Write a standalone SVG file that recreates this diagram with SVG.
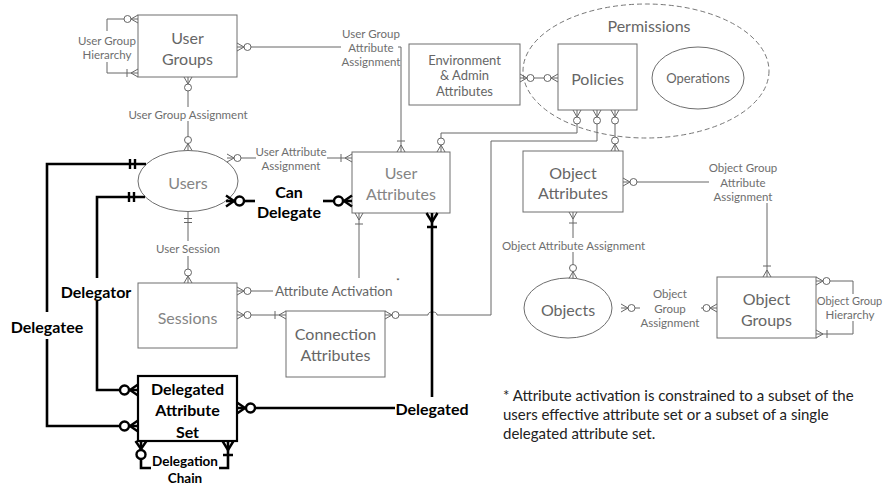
<svg xmlns="http://www.w3.org/2000/svg" width="883" height="487" viewBox="0 0 883 487">
<style>
  text{font-family:Lato,"Liberation Sans",sans-serif;text-anchor:middle;dominant-baseline:central}
  .box{fill:#fff;stroke:#6e6e6e;stroke-width:1}
  .boxT{fill:#fff;stroke:#000;stroke-width:2.2}
  .big{font-size:16px;fill:#666}
  .pale{fill:#858585}
  .mid{font-size:13px;fill:#666}
  .lbl{font-size:11.5px;fill:#6e6e6e}
  .act{font-size:13.6px;fill:#666;text-anchor:start}
  .bold{font-weight:bold;fill:#000}
  .note{font-size:15px;fill:#222;text-anchor:start}
  .ln{fill:none;stroke:#666;stroke-width:1}
  .thick{fill:none;stroke:#000;stroke-width:2.6}
  .mk{fill:none;stroke:#666;stroke-width:1}
  .mkT{fill:none;stroke:#000;stroke-width:2.4}
</style>
<defs>
  <!-- thin ends: origin sits on the entity, symbol extends along -x -->
  <marker id="zm" viewBox="-20 -8 22 16" markerWidth="22" markerHeight="16" refX="0" refY="0" orient="auto-start-reverse" markerUnits="userSpaceOnUse">
    <path class="mk" d="M-7,0L0,-4M-7,0L0,4"/>
    <circle cx="-10.5" cy="0" r="3.5" fill="#fff" stroke="#666" stroke-width="1"/>
  </marker>
  <marker id="om" viewBox="-20 -8 22 16" markerWidth="22" markerHeight="16" refX="0" refY="0" orient="auto-start-reverse" markerUnits="userSpaceOnUse">
    <path class="mk" d="M-7,0L0,-4M-7,0L0,4M-11,-4V4"/>
  </marker>
  <marker id="oo" viewBox="-20 -8 22 16" markerWidth="22" markerHeight="16" refX="0" refY="0" orient="auto-start-reverse" markerUnits="userSpaceOnUse">
    <path class="mk" d="M-7,-4V4M-11,-4V4"/>
  </marker>
  <!-- heavy ends for the delegation relations -->
  <marker id="zmT" viewBox="-24 -10 26 20" markerWidth="26" markerHeight="20" refX="0" refY="0" orient="auto-start-reverse" markerUnits="userSpaceOnUse">
    <path class="mkT" d="M-8,0L0,-5.5M-8,0L0,5.5"/>
    <circle cx="-13.5" cy="0" r="4.5" fill="#fff" stroke="#000" stroke-width="2.4"/>
  </marker>
  <marker id="omT" viewBox="-24 -10 26 20" markerWidth="26" markerHeight="20" refX="0" refY="0" orient="auto-start-reverse" markerUnits="userSpaceOnUse">
    <path class="mkT" d="M-9,0L0,-5.5M-9,0L0,5.5M-14,-5V5"/>
  </marker>
  <marker id="ooT" viewBox="-24 -10 26 20" markerWidth="26" markerHeight="20" refX="0" refY="0" orient="auto-start-reverse" markerUnits="userSpaceOnUse">
    <path class="mkT" d="M-11,-5V5M-16,-5V5"/>
  </marker>
</defs>

<rect width="883" height="487" fill="#fff"/>

<!-- permissions container -->
<g id="permissions">
  <ellipse cx="646" cy="71" rx="123" ry="67" fill="none" stroke="#777" stroke-width="1" stroke-dasharray="5,3"/>
  <text class="big" x="649" y="25">Permissions</text>
</g>

<!-- entities -->
<g id="user-groups">
  <rect class="box" x="138" y="15" width="99" height="62"/>
  <text class="big" x="187.5" y="37">User</text>
  <text class="big" x="187.5" y="58">Groups</text>
</g>
<g id="env-admin-attributes">
  <rect class="box" x="409" y="44" width="111" height="61"/>
  <text class="mid" x="464.5" y="59.5">Environment</text>
  <text class="mid" x="464.5" y="75">&amp; Admin</text>
  <text class="mid" x="464.5" y="91">Attributes</text>
</g>
<g id="policies">
  <rect class="box" x="558" y="44" width="79" height="66"/>
  <text class="big" x="597.5" y="78">Policies</text>
</g>
<g id="operations">
  <ellipse class="box" cx="698" cy="78" rx="46" ry="31"/>
  <text class="mid" x="698" y="78">Operations</text>
</g>
<g id="users">
  <ellipse class="box" cx="188" cy="181" rx="50" ry="30.5"/>
  <text class="big pale" x="188" y="182">Users</text>
</g>
<g id="user-attributes">
  <rect class="box" x="352" y="152" width="98" height="61" stroke="#888"/>
  <text class="big pale" x="401" y="172">User</text>
  <text class="big pale" x="401" y="193">Attributes</text>
</g>
<g id="object-attributes">
  <rect class="box" x="523" y="151" width="100" height="61"/>
  <text class="big" x="573" y="172.5">Object</text>
  <text class="big" x="573" y="192.5">Attributes</text>
</g>
<g id="sessions">
  <rect class="box" x="138" y="283" width="99" height="65"/>
  <text class="big pale" x="187.5" y="317">Sessions</text>
</g>
<g id="connection-attributes">
  <rect class="box" x="286" y="311" width="99" height="66"/>
  <text class="big" x="335.5" y="333">Connection</text>
  <text class="big" x="335.5" y="354">Attributes</text>
</g>
<g id="delegated-attribute-set">
  <rect class="boxT" x="138" y="376" width="99" height="65"/>
  <text class="big bold" x="187.5" y="388">Delegated</text>
  <text class="big bold" x="187.5" y="409">Attribute</text>
  <text class="big bold" x="187.5" y="431">Set</text>
</g>
<g id="objects">
  <ellipse class="box" cx="568" cy="308" rx="44" ry="30"/>
  <text class="big" x="568" y="309">Objects</text>
</g>
<g id="object-groups">
  <rect class="box" x="717" y="277" width="99" height="61"/>
  <text class="big" x="766.5" y="298">Object</text>
  <text class="big" x="766.5" y="319">Groups</text>
</g>

<!-- relationships -->
<g id="connectors">
  <!-- user group hierarchy -->
  <path class="ln" d="M138,19H107V31" marker-start="url(#zm)"/>
  <path class="ln" d="M107,62V73H138" marker-end="url(#om)"/>
  <text class="lbl" x="107" y="40">User Group</text>
  <text class="lbl" x="107" y="54">Hierarchy</text>

  <!-- user group attribute assignment -->
  <path class="ln" d="M237,47H341" marker-start="url(#zm)"/>
  <path class="ln" d="M398,47H401V152" marker-end="url(#om)"/>
  <text class="lbl" x="371" y="33">User Group</text>
  <text class="lbl" x="371" y="47">Attribute</text>
  <text class="lbl" x="371" y="61">Assignment</text>

  <!-- user group assignment -->
  <path class="ln" d="M188,77V107" marker-start="url(#zm)"/>
  <path class="ln" d="M188,121V150.5" marker-end="url(#zm)"/>
  <text class="lbl" x="188" y="114">User Group Assignment</text>

  <!-- user attribute assignment -->
  <path class="ln" d="M227,158H256" marker-start="url(#zm)"/>
  <path class="ln" d="M327,158H352" marker-end="url(#om)"/>
  <text class="lbl" x="291" y="151">User Attribute</text>
  <text class="lbl" x="291" y="165">Assignment</text>

  <!-- user session -->
  <path class="ln" d="M188,211.5V241" marker-start="url(#oo)"/>
  <path class="ln" d="M188,256V283" marker-end="url(#zm)"/>
  <text class="lbl" x="188" y="248">User Session</text>

  <!-- attribute activation -->
  <path class="ln" d="M237,291H273" marker-start="url(#zm)"/>
  <path class="ln" d="M359,213V278" marker-start="url(#om)"/>
  <text class="act" x="275" y="291">Attribute Activation</text>
  <text x="398" y="281" style="font-size:8px;fill:#333">*</text>

  <!-- sessions to connection attributes -->
  <path class="ln" d="M237,315H286" marker-start="url(#zm)" marker-end="url(#om)"/>

  <!-- connection attributes to policies, hopping the delegated line -->
  <path class="ln" d="M385,315H428a4.5,3 0 0 1 9,0H491V141H597V110" marker-start="url(#zm)" marker-end="url(#zm)"/>

  <!-- policies to user attributes -->
  <path class="ln" d="M577,110V133H441V152" marker-start="url(#zm)" marker-end="url(#zm)"/>

  <!-- policies to object attributes -->
  <path class="ln" d="M615,110V151" marker-start="url(#zm)" marker-end="url(#zm)"/>

  <!-- environment attributes to policies -->
  <path class="ln" d="M520,78H558" marker-start="url(#zm)" marker-end="url(#zm)"/>

  <!-- object group attribute assignment -->
  <path class="ln" d="M623,182H709" marker-start="url(#zm)"/>
  <path class="ln" d="M767,203V277" marker-end="url(#om)"/>
  <text class="lbl" x="743" y="167">Object Group</text>
  <text class="lbl" x="743" y="182">Attribute</text>
  <text class="lbl" x="743" y="196">Assignment</text>

  <!-- object attribute assignment -->
  <path class="ln" d="M573,212V238" marker-start="url(#om)"/>
  <path class="ln" d="M573,252V278.5" marker-end="url(#zm)"/>
  <text class="lbl" x="573.5" y="245">Object Attribute Assignment</text>

  <!-- object group assignment -->
  <path class="ln" d="M621,308H640" marker-start="url(#zm)"/>
  <path class="ln" d="M701,308H717" marker-end="url(#zm)"/>
  <text class="lbl" x="670" y="293.5">Object</text>
  <text class="lbl" x="670" y="308">Group</text>
  <text class="lbl" x="670" y="322">Assignment</text>

  <!-- object group hierarchy -->
  <path class="ln" d="M816,281H853V294" marker-start="url(#zm)"/>
  <path class="ln" d="M853,321V334H816" marker-end="url(#om)"/>
  <text class="lbl" x="849.5" y="300" style="font-size:11px">Object Group</text>
  <text class="lbl" x="850" y="314">Hierarchy</text>

  <!-- can delegate -->
  <path class="thick" d="M226,201H255" marker-start="url(#zmT)"/>
  <path class="thick" d="M323,201H352" marker-end="url(#zmT)"/>
  <text class="big bold" x="289" y="191">Can</text>
  <text class="big bold" x="289" y="211">Delegate</text>

  <!-- delegatee -->
  <path class="thick" d="M146,164H47V312" marker-start="url(#ooT)"/>
  <path class="thick" d="M47,339V426H138" marker-end="url(#zmT)"/>
  <text class="big bold" x="47" y="326">Delegatee</text>

  <!-- delegator -->
  <path class="thick" d="M145,197H97V278" marker-start="url(#ooT)"/>
  <path class="thick" d="M97,301V390H138" marker-end="url(#zmT)"/>
  <text class="big bold" x="96" y="291">Delegator</text>

  <!-- delegated -->
  <path class="thick" d="M432,213V397" marker-start="url(#omT)"/>
  <path class="thick" d="M237,408H395" marker-start="url(#zmT)"/>
  <text class="big bold" x="432" y="408">Delegated</text>

  <!-- delegation chain -->
  <path class="thick" d="M141,441V468H151" marker-start="url(#zmT)"/>
  <path class="thick" d="M219,468H228V441" marker-end="url(#omT)"/>
  <text class="bold" x="185" y="461" style="font-size:13.5px">Delegation</text>
  <text class="bold" x="185" y="478" style="font-size:13.5px">Chain</text>
</g>

<!-- footnote -->
<g id="footnote">
  <text class="note" x="503" y="395">* Attribute activation is constrained to a subset of the</text>
  <text class="note" x="503" y="414">users effective attribute set or a subset of a single</text>
  <text class="note" x="503" y="433">delegated attribute set.</text>
</g>
</svg>
